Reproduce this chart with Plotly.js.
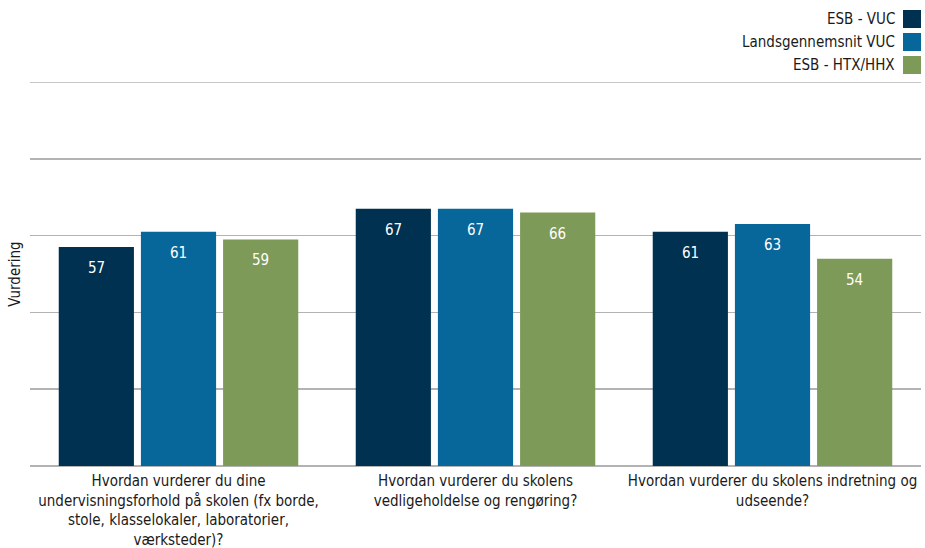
<!DOCTYPE html>
<html><head><meta charset="utf-8">
<script src="https://cdn.plot.ly/plotly-3.0.1.min.js"></script>
<style>html,body{margin:0;padding:0;background:#fff}#chart{width:925px;height:548px}</style>
</head><body><div id="chart"></div>
<script>
const categories = [
  "Hvordan vurderer du dine<br>undervisningsforhold på skolen (fx borde,<br>stole, klasselokaler, laboratorier,<br>værksteder)?",
  "Hvordan vurderer du skolens<br>vedligeholdelse og rengøring?",
  "Hvordan vurderer du skolens indretning og<br>udseende?"
];
const seriesNames = ["ESB - VUC", "Landsgennemsnit VUC", "ESB - HTX/HHX"];
const esbVuc = [57, 67, 61];
const landsVuc = [61, 67, 63];
const esbHtx = [59, 66, 54];
const colors = ["#003150", "#07679b", "#7e9a59"];
const values = [esbVuc, landsVuc, esbHtx];

const font = "Tahoma, 'DejaVu Sans Condensed', 'DejaVu Sans', sans-serif";
const W = 925, H = 548, ML = 30, MR = 4, MT = 82, MB = 82;
const plotW = W - ML - MR, plotH = H - MT - MB;
const bargap = 0.17;
const slotPx = plotW / categories.length * (1 - bargap) / values.length;

const traces = values.map((v, i) => ({
  type: "bar", x: categories, y: v, name: seriesNames[i],
  marker: {color: colors[i]},
  showlegend: false, hoverinfo: "none"
}));

const annotations = [];
const shapes = [
  {type: "line", xref: "paper", yref: "y", x0: 0, x1: 1, y0: 100, y1: 100,
   line: {color: "#b3b3b3", width: 1.5}, layer: "below"}
];
values.forEach((v, i) => {
  v.forEach((val, j) => {
    annotations.push({xref: "x", yref: "y", x: categories[j], y: val,
      xshift: (i - (values.length - 1) / 2) * slotPx, yshift: -10,
      yanchor: "top", xanchor: "center", showarrow: false, text: String(val),
      font: {size: 15, family: font, color: "#ffffff"}});
  });
});
seriesNames.forEach((n, i) => {
  const yc = 19 + i * 23;
  annotations.push({xref: "paper", yref: "paper", x: (897 - ML) / plotW, y: 1 - (yc - MT) / plotH,
    text: n, showarrow: false, xanchor: "right", yanchor: "middle",
    font: {size: 15, family: font, color: "#1a1a1a"}});
  shapes.push({type: "rect", xref: "paper", yref: "paper",
    x0: (903 - ML) / plotW, x1: (921 - ML) / plotW,
    y0: 1 - (yc + 9 - MT) / plotH, y1: 1 - (yc - 9 - MT) / plotH,
    fillcolor: colors[i], line: {width: 0}});
});

const layout = {
  width: W, height: H,
  margin: {l: ML, r: MR, t: MT, b: MB},
  paper_bgcolor: "#fff", plot_bgcolor: "#fff",
  barmode: "group", bargap: bargap, bargroupgap: 0.085,
  font: {family: font, size: 15, color: "#1a1a1a"},
  xaxis: {type: "category", showgrid: false, zeroline: false, showline: false,
    ticks: "outside", ticklen: 1, tickcolor: "rgba(0,0,0,0)",
    tickfont: {size: 15, family: font, color: "#1a1a1a"}},
  yaxis: {range: [0, 100], tickvals: [0, 20, 40, 60, 80, 100], showticklabels: false,
    showgrid: true, gridcolor: "#b3b3b3", gridwidth: 1.5,
    zeroline: true, zerolinecolor: "#b3b3b3", zerolinewidth: 1.5, ticks: "",
    title: {text: "Vurdering", standoff: 4, font: {size: 15, family: font, color: "#1a1a1a"}}},
  annotations: annotations, shapes: shapes
};
Plotly.newPlot("chart", traces, layout, {displayModeBar: false, staticPlot: true});
</script></body></html>
